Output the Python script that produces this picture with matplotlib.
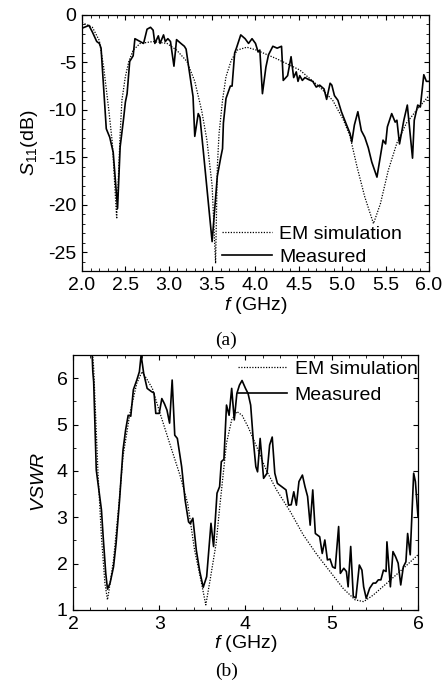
import numpy as np
import matplotlib
matplotlib.use("Agg")
import matplotlib.pyplot as plt
from matplotlib.ticker import MultipleLocator, FormatStrFormatter

plt.rcParams["font.family"] = ["Liberation Sans", "DejaVu Sans"]
plt.rcParams["mathtext.fontset"] = "custom"
plt.rcParams["mathtext.rm"] = "Liberation Sans"
plt.rcParams["mathtext.it"] = "Liberation Sans:italic"
plt.rcParams["axes.unicode_minus"] = False

# (a) S11, measured
s11_meas_f = [2.00, 2.08, 2.12, 2.17, 2.20, 2.22, 2.28, 2.32, 2.36, 2.41, 2.44, 2.48, 2.50, 2.52,
              2.55, 2.59, 2.61, 2.67, 2.71, 2.75, 2.79, 2.82, 2.84, 2.88, 2.90, 2.94, 2.96, 2.99,
              3.02, 3.06, 3.09, 3.14, 3.18, 3.20, 3.23, 3.28, 3.30, 3.34, 3.36, 3.40, 3.50, 3.56,
              3.60, 3.62, 3.63, 3.66, 3.71, 3.73, 3.76, 3.78, 3.83, 3.88, 3.92, 3.96, 4.00, 4.03,
              4.05, 4.08, 4.12, 4.15, 4.20, 4.25, 4.30, 4.32, 4.37, 4.41, 4.44, 4.47, 4.49, 4.51,
              4.54, 4.57, 4.61, 4.66, 4.70, 4.74, 4.79, 4.82, 4.86, 4.88, 4.91, 4.95, 4.99, 5.05,
              5.09, 5.11, 5.14, 5.18, 5.22, 5.26, 5.30, 5.34, 5.40, 5.47, 5.50, 5.52, 5.57, 5.61,
              5.63, 5.66, 5.71, 5.75, 5.81, 5.83, 5.87, 5.90, 5.94, 5.97, 6.00]
s11_meas = [-1.4, -1.1, -1.8, -2.8, -3.0, -3.5, -12.0, -12.9, -14.5, -20.4, -13.9, -10.9, -9.2, -8.3,
            -4.9, -4.3, -2.5, -2.8, -3.0, -1.5, -1.3, -1.6, -3.0, -2.2, -3.0, -2.1, -2.8, -2.5,
            -2.8, -5.4, -2.6, -3.0, -3.3, -3.6, -5.5, -8.6, -12.8, -10.4, -10.8, -14.5, -23.9, -17.0,
            -15.0, -14.1, -11.4, -8.8, -7.5, -7.5, -4.0, -3.5, -2.1, -2.5, -3.0, -2.5, -3.0, -3.9,
            -3.7, -8.3, -5.5, -4.2, -3.3, -3.5, -3.3, -6.9, -6.4, -4.4, -6.6, -6.0, -7.0, -6.4,
            -6.9, -6.6, -6.8, -7.0, -7.6, -7.4, -7.8, -8.9, -7.2, -7.4, -8.5, -9.0, -10.2, -11.6,
            -12.5, -13.4, -11.6, -10.2, -12.2, -12.9, -14.0, -15.5, -17.1, -13.2, -13.6, -11.8, -10.4, -11.3,
            -11.1, -13.6, -11.1, -9.5, -15.1, -11.1, -9.5, -9.7, -6.3, -7.0, -7.0]

# (a) S11, EM simulation
s11_sim_f = [2.00, 2.12, 2.20, 2.25, 2.31, 2.35, 2.40, 2.44, 2.46, 2.50, 2.54, 2.59, 2.67, 2.82,
             2.98, 3.09, 3.21, 3.30, 3.38, 3.44, 3.50, 3.54, 3.56, 3.58, 3.62, 3.66, 3.72, 3.79,
             3.90, 4.01, 4.24, 4.51, 4.74, 4.89, 5.01, 5.09, 5.17, 5.26, 5.36, 5.44, 5.53, 5.63,
             5.74, 5.86, 6.00]
s11_sim = [-0.8, -1.3, -2.7, -5.5, -10.1, -13.5, -21.5, -12.5, -9.0, -6.5, -4.9, -3.7, -3.0, -2.8,
           -3.0, -3.7, -4.9, -7.0, -10.1, -13.2, -18.0, -26.2, -16.0, -12.5, -9.0, -6.5, -4.8, -3.7,
           -3.4, -3.7, -4.6, -5.8, -7.6, -9.0, -11.0, -12.8, -16.0, -19.2, -22.0, -19.9, -16.4, -13.5,
           -11.4, -10.0, -8.5]

# (b) VSWR, measured
vswr_meas_f = [2.22, 2.23, 2.24, 2.27, 2.33, 2.35, 2.38, 2.40, 2.43, 2.47, 2.50, 2.54, 2.58, 2.61,
               2.64, 2.67, 2.70, 2.74, 2.77, 2.79, 2.82, 2.86, 2.91, 2.94, 2.96, 3.00, 3.03, 3.06,
               3.09, 3.12, 3.15, 3.18, 3.21, 3.26, 3.30, 3.34, 3.36, 3.39, 3.43, 3.47, 3.51, 3.55,
               3.60, 3.63, 3.67, 3.70, 3.72, 3.75, 3.78, 3.81, 3.84, 3.87, 3.90, 3.93, 3.96, 4.00,
               4.03, 4.06, 4.09, 4.12, 4.14, 4.17, 4.21, 4.25, 4.28, 4.31, 4.34, 4.37, 4.42, 4.47,
               4.50, 4.53, 4.56, 4.59, 4.62, 4.66, 4.69, 4.72, 4.75, 4.78, 4.81, 4.86, 4.89, 4.92,
               4.95, 4.98, 5.01, 5.04, 5.08, 5.10, 5.14, 5.17, 5.19, 5.22, 5.25, 5.28, 5.32, 5.35,
               5.37, 5.40, 5.44, 5.48, 5.51, 5.54, 5.57, 5.60, 5.63, 5.64, 5.68, 5.71, 5.74, 5.77,
               5.80, 5.83, 5.86, 5.88, 5.91, 5.95, 5.97, 6.00]
vswr_meas = [6.6, 6.14, 5.92, 4.02, 3.16, 2.58, 1.79, 1.45, 1.58, 1.93, 2.44, 3.37, 4.45, 4.88,
             5.20, 5.18, 5.75, 5.96, 6.14, 6.5, 6.10, 5.78, 5.71, 5.68, 5.24, 5.24, 5.56, 5.45,
             5.31, 5.03, 5.96, 4.77, 4.70, 4.09, 3.37, 2.90, 2.86, 2.98, 2.29, 1.83, 1.49, 1.72,
             2.87, 2.37, 3.52, 3.66, 4.20, 4.25, 5.42, 5.20, 5.78, 5.10, 5.67, 5.85, 5.95, 5.78,
             5.67, 5.42, 4.67, 4.09, 3.98, 4.70, 3.84, 3.95, 4.56, 4.73, 3.95, 3.73, 3.66, 3.59,
             3.26, 3.27, 3.55, 3.26, 3.77, 3.91, 3.66, 3.45, 2.83, 3.59, 2.65, 2.58, 2.22, 2.51,
             2.08, 2.10, 1.93, 1.90, 2.80, 1.79, 1.90, 1.83, 1.50, 2.37, 1.29, 1.26, 1.97, 1.86,
             1.50, 1.25, 1.47, 1.58, 1.58, 1.65, 1.65, 1.86, 1.83, 2.47, 1.50, 2.26, 2.15, 2.01,
             1.54, 1.93, 2.04, 2.65, 2.19, 3.95, 3.77, 3.01]

# (b) VSWR, EM simulation
vswr_sim_f = [2.22, 2.24, 2.29, 2.33, 2.37, 2.40, 2.42, 2.47, 2.53, 2.58, 2.66, 2.74, 2.80, 2.85,
              2.92, 3.01, 3.12, 3.24, 3.33, 3.41, 3.49, 3.54, 3.59, 3.66, 3.70, 3.78, 3.84, 3.90,
              3.96, 4.03, 4.13, 4.24, 4.36, 4.52, 4.67, 4.83, 4.98, 5.13, 5.27, 5.37, 5.48, 5.64,
              5.79, 6.00]
vswr_sim = [6.7, 6.22, 3.95, 2.58, 1.58, 1.22, 1.45, 2.08, 3.23, 4.31, 5.24, 5.89, 6.14, 6.00,
            5.78, 5.24, 4.60, 3.91, 3.30, 2.29, 1.58, 1.11, 1.65, 2.44, 3.20, 4.60, 5.10, 5.28,
            5.20, 4.95, 4.52, 4.02, 3.59, 3.12, 2.62, 2.19, 1.83, 1.47, 1.22, 1.18, 1.32, 1.58,
            1.83, 2.19]

fs = 14
sim_style = dict(color="black", linestyle=(0, (1, 1.2)), linewidth=0.9)
meas_style = dict(color="black", linewidth=1.2)


def style_axes(ax):
    ax.tick_params(which="both", direction="in", top=True, right=True, labelsize=fs, pad=4)
    ax.tick_params(which="major", length=3.8, width=0.8)
    ax.tick_params(which="minor", length=2, width=0.6)
    for sp in ax.spines.values():
        sp.set_linewidth(0.9)


fig = plt.figure(figsize=(4.48, 6.84), dpi=100)

# (a)
ax1 = fig.add_axes([0.1830, 0.6038, 0.7746, 0.3743])
ax1.plot(s11_sim_f, s11_sim, label="EM simulation", **sim_style)
ax1.plot(s11_meas_f, s11_meas, label="Measured", **meas_style)
ax1.set_xlim(2.0, 6.0)
ax1.set_ylim(-27, 0)
ax1.xaxis.set_major_locator(MultipleLocator(0.5))
ax1.xaxis.set_minor_locator(MultipleLocator(0.1))
ax1.yaxis.set_major_locator(MultipleLocator(5))
ax1.yaxis.set_minor_locator(MultipleLocator(1))
ax1.xaxis.set_major_formatter(FormatStrFormatter("%.1f"))
style_axes(ax1)
ax1.set_xlabel(r"$f$ (GHz)", fontsize=fs, labelpad=1)
ax1.set_ylabel(r"$S_{11}$(dB)", fontsize=fs, labelpad=6)
ax1.legend(loc="center left", bbox_to_anchor=(0.4035, 0.0996), frameon=False, fontsize=fs,
           handlelength=2.57, handletextpad=0.36, labelspacing=0.3, borderpad=0, borderaxespad=0)

# (b)
ax2 = fig.add_axes([0.1629, 0.1082, 0.7701, 0.3728])
ax2.plot(vswr_sim_f, vswr_sim, label="EM simulation", **sim_style)
ax2.plot(vswr_meas_f, vswr_meas, label="Measured", **meas_style)
ax2.set_xlim(2, 6)
ax2.set_ylim(1, 6.5)
ax2.xaxis.set_major_locator(MultipleLocator(1))
ax2.xaxis.set_minor_locator(MultipleLocator(0.2))
ax2.yaxis.set_major_locator(MultipleLocator(1))
ax2.yaxis.set_minor_locator(MultipleLocator(0.5))
style_axes(ax2)
ax2.set_xlabel(r"$f$ (GHz)", fontsize=fs, labelpad=0)
ax2.set_ylabel(r"$VSWR$", fontsize=fs, labelpad=6)
ax2.legend(loc="center left", bbox_to_anchor=(0.478, 0.894), frameon=False, fontsize=fs,
           handlelength=2.52, handletextpad=0.41, labelspacing=0.46, borderpad=0, borderaxespad=0)

fig.text(0.505, 1 - 340 / 684, "(a)", family="Liberation Serif", fontsize=14, ha="center", va="center")
fig.text(0.505, 1 - 671.5 / 684, "(b)", family="Liberation Serif", fontsize=14, ha="center", va="center")

fig.savefig("out.png", dpi=100)
